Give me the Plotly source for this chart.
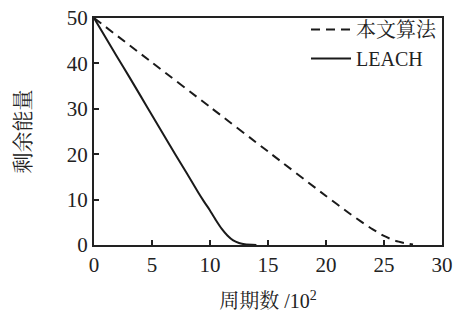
import plotly.graph_objects as go

ours_x = [0, 5, 10, 15, 20, 22, 23, 24, 25, 26, 27, 27.5]
ours_y = [50, 40.2, 30.4, 20.6, 10.8, 7.0, 5.2, 3.5, 2.0, 0.9, 0.3, 0.1]
leach_x = [0, 1, 2, 3, 4, 5, 6, 7, 8, 9, 9.5, 10, 10.5, 11, 11.5, 12, 12.5, 13, 14]
leach_y = [50, 45.7, 41.4, 37.2, 32.9, 28.6, 24.3, 20.0, 15.8, 11.5, 9.5, 7.6, 5.5, 3.6, 2.1, 1.0, 0.45, 0.15, 0]
names = ["本文算法", "LEACH"]
x_ticks = [0, 5, 10, 15, 20, 25, 30]
y_ticks = [0, 10, 20, 30, 40, 50]

FONT = "'Liberation Serif', 'Times New Roman', 'Noto Serif CJK SC', 'Noto Sans CJK SC', serif"

fig = go.Figure()
fig.add_trace(go.Scatter(x=ours_x, y=ours_y, mode="lines", name=names[0],
                         line=dict(color="#1a1a1a", width=2, dash="9px,6px", shape="spline", smoothing=0.6)))
fig.add_trace(go.Scatter(x=leach_x, y=leach_y, mode="lines", name=names[1],
                         line=dict(color="#1a1a1a", width=2, shape="spline", smoothing=0.6)))

axis_common = dict(showline=True, linecolor="#222", linewidth=2, mirror=True,
                   ticks="inside", ticklen=5, tickwidth=1.5, tickcolor="#222",
                   showgrid=False, zeroline=False, automargin=False,
                   tickfont=dict(family=FONT, size=21, color="#222"))

fig.update_layout(
    width=454, height=318,
    margin=dict(l=94, r=12, t=18, b=73, autoexpand=False),
    paper_bgcolor="white", plot_bgcolor="white",
    font=dict(family=FONT, color="#222"),
    showlegend=True,
    legend=dict(x=1.0, y=1.035, xanchor="right", yanchor="top",
                bgcolor="rgba(0,0,0,0)", font=dict(family=FONT, size=20, color="#222"),
                tracegroupgap=0, itemwidth=40),
    xaxis=dict(range=[0, 30], tickvals=x_ticks,
               title=dict(text="周期数 /10<sup>2</sup>", font=dict(family=FONT, size=20, color="#222"), standoff=18),
               **axis_common),
    yaxis=dict(range=[0, 50], tickvals=y_ticks,
               title=dict(text="剩余能量", font=dict(family=FONT, size=21, color="#222"), standoff=30),
               **axis_common),
)

fig.write_html("out.html", config={"displayModeBar": False},
               post_script="document.body.style.margin='0';document.body.style.padding='0';")
